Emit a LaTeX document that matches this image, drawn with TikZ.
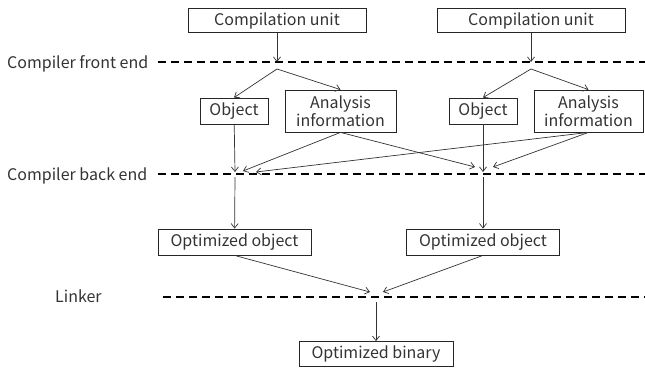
\documentclass[tikz,border=0pt]{standalone}
\usepackage{fontspec}
\setmainfont{Noto Sans CJK JP}
\usetikzlibrary{arrows.meta}
\begin{document}
\begin{tikzpicture}[x=1pt,y=-1pt,
  box/.style={draw=black!85,line width=0.8pt,rectangle,inner sep=0pt,font=\fontsize{16}{19}\selectfont,text=black!80,align=center},
  flow/.style={draw=black!80,line width=0.7pt,-{Straight Barb[length=4.5pt,width=7pt]}},
  stage/.style={dash pattern=on 8pt off 5pt,line width=1.4pt,black},
  lbl/.style={anchor=base west,inner sep=0pt,font=\fontsize{16}{19}\selectfont,text=black!80}]
\useasboundingbox (0,0) rectangle (645,367);

% source boxes
\node[box,minimum width=178pt,minimum height=24pt] (cu1) at (277,20.5) {Compilation unit};
\node[box,minimum width=188pt,minimum height=24pt] (cu2) at (531,20.5) {Compilation unit};

% front-end outputs
\node[box,minimum width=68pt,minimum height=26pt] (ob1) at (234,111) {Object};
\node[box,minimum width=111pt,minimum height=42pt] (an1) at (340.5,111) {Analysis\\[-1pt]information};
\node[box,minimum width=68pt,minimum height=26pt] (ob2) at (483,111) {Object};
\node[box,minimum width=109pt,minimum height=42pt] (an2) at (588.5,111) {Analysis\\[-1pt]information};

% back-end outputs
\node[box,minimum width=153pt,minimum height=26pt] (oo1) at (234.5,242) {Optimized object};
\node[box,minimum width=153pt,minimum height=26pt] (oo2) at (483,242) {Optimized object};
\node[box,minimum width=154pt,minimum height=25pt] (bin) at (376,354) {Optimized binary};

% stage labels and separators
\node[lbl] (lfe) at (7,68.5) {Compiler front end};
\node[lbl] (lbe) at (7,180) {Compiler back end};
\node[lbl] (lln) at (55,302.5) {Linker};
\coordinate (fes) at (158,62);  \coordinate (fee) at (645,62);
\coordinate (bes) at (158,174); \coordinate (bee) at (645,174);
\coordinate (lns) at (163,297); \coordinate (lne) at (645,297);
\draw[stage] (fes) -- (fee);
\draw[stage] (bes) -- (bee);
\draw[stage] (lns) -- (lne);

% junction points on the stage lines
\coordinate (fe1) at (277,62); \coordinate (sp1) at (277,69);
\coordinate (fe2) at (531,62); \coordinate (sp2) at (531,69);
\coordinate (be1) at (235,172); \coordinate (be1a) at (243,171); \coordinate (be1b) at (256,172);
\coordinate (be2) at (483,172); \coordinate (be2a) at (475,167); \coordinate (be2b) at (493,167);
\coordinate (bo1) at (235,177); \coordinate (bo2) at (483,177);
\coordinate (ln1) at (370,292); \coordinate (ln2) at (383,292);
\coordinate (lo) at (376,302);

% front end
\draw[flow] (cu1) -- (fe1);
\draw[flow] (cu2) -- (fe2);
\draw[flow] (sp1) -- (ob1.north);
\draw[flow] (sp1) -- (an1.north);
\draw[flow] (sp2) -- (ob2.north);
\draw[flow] (sp2) -- (an2.north);

% back end
\draw[flow] (ob1) -- (be1);
\draw[flow] (an1.south) -- (be1a);
\draw[flow] (an2.south) -- (be1b);
\draw[flow] (ob2) -- (be2);
\draw[flow] (an1.south) -- (be2a);
\draw[flow] (an2.south) -- (be2b);
\draw[flow] (bo1) -- (oo1);
\draw[flow] (bo2) -- (oo2);

% linker
\draw[flow] (oo1.south) -- (ln1);
\draw[flow] (oo2.south) -- (ln2);
\draw[flow] (lo) -- (bin);
\end{tikzpicture}
\end{document}
